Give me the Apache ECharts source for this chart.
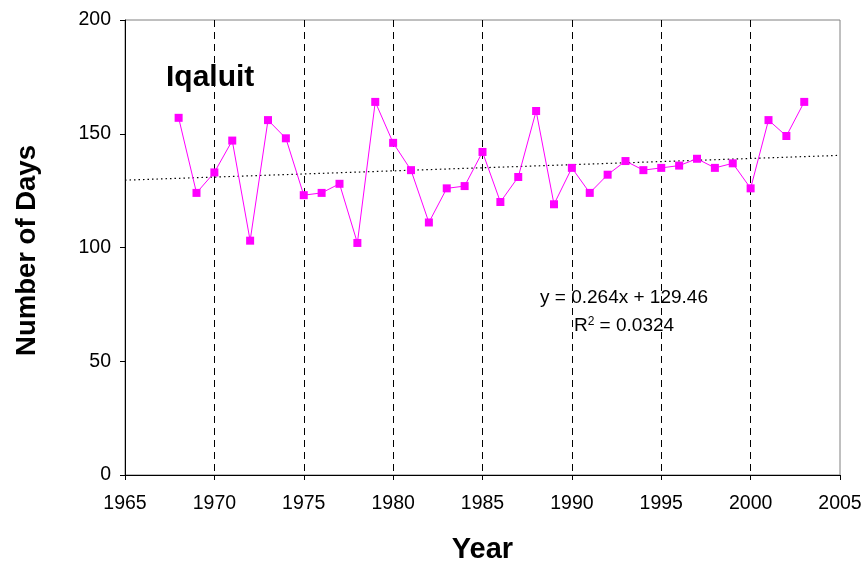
<!DOCTYPE html>
<html>
<head>
<meta charset="utf-8">
<script src="https://cdn.jsdelivr.net/npm/echarts@6/dist/echarts.min.js"></script>
<style>
  html, body { margin: 0; padding: 0; background: #fff; }
  #main { width: 865px; height: 569px; }
</style>
</head>
<body>
<div id="main"></div>
<script>
// 数据
var years = [1968, 1969, 1970, 1971, 1972, 1973, 1974, 1975, 1976, 1977, 1978, 1979,
  1980, 1981, 1982, 1983, 1984, 1985, 1986, 1987, 1988, 1989, 1990, 1991,
  1992, 1993, 1994, 1995, 1996, 1997, 1998, 1999, 2000, 2001, 2002, 2003];
var days = [157, 124, 133, 147, 103, 156, 148, 123, 124, 128, 102, 164,
  146, 134, 111, 126, 127, 142, 120, 131, 160, 119, 135, 124,
  132, 138, 134, 135, 136, 139, 135, 137, 126, 156, 149, 164];
// trend line ends
var trendYears = [1965, 2005];
var trendDays = [129.6, 140.5];
var equationText = ["y = 0.264x + 129.46", "R{sup|2} = 0.0324"];

var font = "Liberation Sans, Arial, sans-serif";

var chart = echarts.init(document.getElementById("main"));

var points = [];
for (var i = 0; i < years.length; i++) {
  points.push([years[i], days[i]]);
}
var trend = [];
for (var j = 0; j < trendYears.length; j++) {
  trend.push([trendYears[j], trendDays[j]]);
}

var option = {
  animation: false,
  backgroundColor: "#fff",
  grid: {
    left: 125,
    right: 25,
    top: 20,
    bottom: 90,
    show: true,
    borderColor: "#808080",
    borderWidth: 1
  },
  title: {
    text: "Iqaluit",
    left: 161,
    top: 58,
    textStyle: {
      fontFamily: font,
      fontWeight: "bold",
      fontSize: 30,
      color: "#000"
    }
  },
  xAxis: {
    type: "value",
    min: 1965,
    max: 2005,
    interval: 5,
    name: "Year",
    nameLocation: "middle",
    nameGap: 60,
    nameTextStyle: {
      fontFamily: font,
      fontWeight: "bold",
      fontSize: 29,
      color: "#000"
    },
    axisLine: { onZero: false, lineStyle: { color: "#000", width: 1 } },
    axisTick: { show: true, inside: false, length: 5, lineStyle: { color: "#000" } },
    axisLabel: {
      fontFamily: font,
      fontSize: 19.5,
      color: "#000",
      margin: 19,
      formatter: function(v) { return String(v); }
    },
    splitLine: {
      show: true,
      showMinLine: false,
      showMaxLine: false,
      lineStyle: { color: "#000", type: [7, 5], width: 1 }
    }
  },
  yAxis: {
    type: "value",
    min: 0,
    max: 200,
    interval: 50,
    name: "Number of Days",
    nameLocation: "middle",
    nameGap: 84,
    nameTextStyle: {
      fontFamily: font,
      fontWeight: "bold",
      fontSize: 27.5,
      color: "#000",
      padding: [0, 6, 0, 0]
    },
    axisLine: { show: true, lineStyle: { color: "#000", width: 1 } },
    axisTick: { show: true, inside: false, length: 5, lineStyle: { color: "#000" } },
    axisLabel: {
      fontFamily: font,
      fontSize: 19.5,
      color: "#000",
      margin: 14
    },
    splitLine: { show: false }
  },
  graphic: [
    {
      type: "text",
      x: 624,
      y: 288,
      style: {
        text: equationText[0],
        fontFamily: font,
        fontSize: 19,
        fill: "#000",
        align: "center"
      }
    },
    {
      type: "text",
      x: 624,
      y: 316,
      style: {
        text: equationText[1],
        fontFamily: font,
        fontSize: 19,
        fill: "#000",
        align: "center",
        rich: {
          sup: { fontSize: 12, verticalAlign: "top", padding: [0, 0, 8, 0], fontFamily: font }
        }
      }
    }
  ],
  series: [
    {
      name: "trend",
      type: "line",
      data: trend,
      symbol: "none",
      lineStyle: { color: "#000", width: 1.2, type: [1.5, 3] },
      z: 1
    },
    {
      name: "Iqaluit",
      type: "line",
      data: points,
      symbol: "rect",
      symbolSize: 8,
      itemStyle: { color: "#FF00FF" },
      lineStyle: { color: "#FF00FF", width: 1 },
      z: 3
    }
  ]
};
chart.setOption(option);
</script>
</body>
</html>
